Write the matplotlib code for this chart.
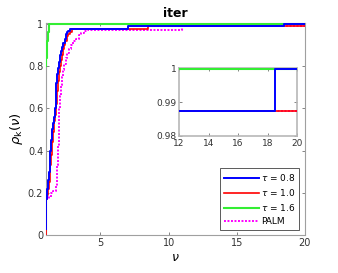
import matplotlib
matplotlib.use("Agg")
import matplotlib.pyplot as plt

# data
blue_x = [1.0, 1.02, 1.06, 1.1, 1.16, 1.22, 1.27, 1.32, 1.37, 1.42, 1.5, 1.58, 1.66, 1.72, 1.77, 1.82, 1.9, 1.98, 2.05, 2.12, 2.2, 2.28, 2.36, 2.45, 2.55, 2.65, 2.8, 7.0, 18.5, 20.0]
blue_y = [0.03, 0.17, 0.20, 0.22, 0.26, 0.30, 0.34, 0.40, 0.45, 0.50, 0.53, 0.56, 0.60, 0.66, 0.72, 0.76, 0.79, 0.82, 0.85, 0.87, 0.89, 0.91, 0.93, 0.95, 0.96, 0.965, 0.975, 0.9875, 1.0, 1.0]
red_x = [1.0, 1.03, 1.08, 1.14, 1.2, 1.26, 1.32, 1.38, 1.44, 1.52, 1.6, 1.68, 1.75, 1.8, 1.86, 1.94, 2.02, 2.1, 2.18, 2.26, 2.34, 2.42, 2.52, 2.62, 2.75, 2.9, 8.5, 20.0]
red_y = [0.0, 0.17, 0.19, 0.22, 0.25, 0.29, 0.33, 0.38, 0.44, 0.49, 0.54, 0.57, 0.62, 0.68, 0.73, 0.77, 0.80, 0.83, 0.85, 0.88, 0.90, 0.92, 0.94, 0.95, 0.96, 0.975, 0.9875, 0.9875]
green_x = [1.0, 1.03, 1.06, 1.1, 1.15, 1.2, 20.0]
green_y = [0.80, 0.84, 0.88, 0.92, 0.96, 1.0, 1.0]
palm_x = [1.0, 1.2, 1.4, 1.55, 1.7, 1.78, 1.83, 1.87, 1.92, 1.97, 2.03, 2.1, 2.18, 2.26, 2.35, 2.45, 2.55, 2.7, 2.85, 3.0, 3.2, 3.4, 3.6, 3.8, 4.0, 11.0, 20.0]
palm_y = [0.17, 0.18, 0.20, 0.21, 0.23, 0.26, 0.33, 0.42, 0.52, 0.60, 0.66, 0.71, 0.75, 0.78, 0.81, 0.84, 0.86, 0.88, 0.90, 0.92, 0.93, 0.945, 0.955, 0.965, 0.97, 0.9875, 0.9875]
labels = [r'$\tau$ = 0.8', r'$\tau$ = 1.0', r'$\tau$ = 1.6', 'PALM']
main_xticks = [5, 10, 15, 20]
main_yticks = [0, 0.2, 0.4, 0.6, 0.8, 1]
main_yticklabels = ['0', '0.2', '0.4', '0.6', '0.8', '1']
inset_xticks = [12, 14, 16, 18, 20]
inset_yticks = [0.98, 0.99, 1.0]
inset_yticklabels = ['0.98', '0.99', '1']

series = [
    (blue_x, blue_y, dict(color='#0000ff', lw=1.4, ls='-')),
    (red_x, red_y, dict(color='#ff0000', lw=1.2, ls='-')),
    (green_x, green_y, dict(color='#33ee33', lw=1.5, ls='-')),
    (palm_x, palm_y, dict(color='#ff00ff', lw=1.4, ls=(0, (1, 0.8)))),
]
draw_order = [2, 3, 1, 0]

fig = plt.figure(figsize=(3.38, 2.73), dpi=100)
ax = fig.add_axes([0.136, 0.139, 0.766, 0.777])

def style(a, fs):
    for s in a.spines.values():
        s.set_color('#a0a0a0')
        s.set_linewidth(0.8)
    a.tick_params(direction='in', length=2.5, width=0.6, colors='#707070',
                  labelcolor='#333333', labelsize=fs, top=True, right=True, pad=2)

handles = {}
for i in draw_order:
    x, y, kw = series[i]
    h, = ax.step(x, y, where='post', label=labels[i], zorder=3, **kw)
    handles[i] = h
ax.set_xlim(1, 20)
ax.set_ylim(0, 1.004)
ax.set_xticks(main_xticks)
ax.set_yticks(main_yticks)
ax.set_yticklabels(main_yticklabels)
style(ax, 7)
ax.set_title('iter', fontsize=9, fontweight='bold', pad=4)
ax.set_xlabel(r'$\nu$', fontsize=9, labelpad=2)
ax.set_ylabel(r'$\rho_\mathsf{k}(\nu)$', fontsize=9.5, labelpad=2)

leg = ax.legend([handles[i] for i in range(4)], labels, loc='lower right',
                fontsize=6.5, handlelength=3.9, handletextpad=0.3,
                fancybox=False, edgecolor='#404040', framealpha=1,
                borderpad=0.4, labelspacing=0.45, borderaxespad=0.6)
leg.get_frame().set_linewidth(0.6)
leg.set_zorder(5)

ins = fig.add_axes([0.530, 0.502, 0.349, 0.249])
for i in draw_order:
    x, y, kw = series[i]
    ins.step(x, y, where='post', zorder=3, **kw)
ins.set_xlim(12, 20)
ins.set_ylim(0.98, 1.0003)
ins.set_xticks(inset_xticks)
ins.set_yticks(inset_yticks)
ins.set_yticklabels(inset_yticklabels)
style(ins, 6.5)
for s in ins.spines.values():
    s.set_linewidth(1.2)
    s.set_color('#b8b8b8')

fig.savefig('out.png', dpi=100)
